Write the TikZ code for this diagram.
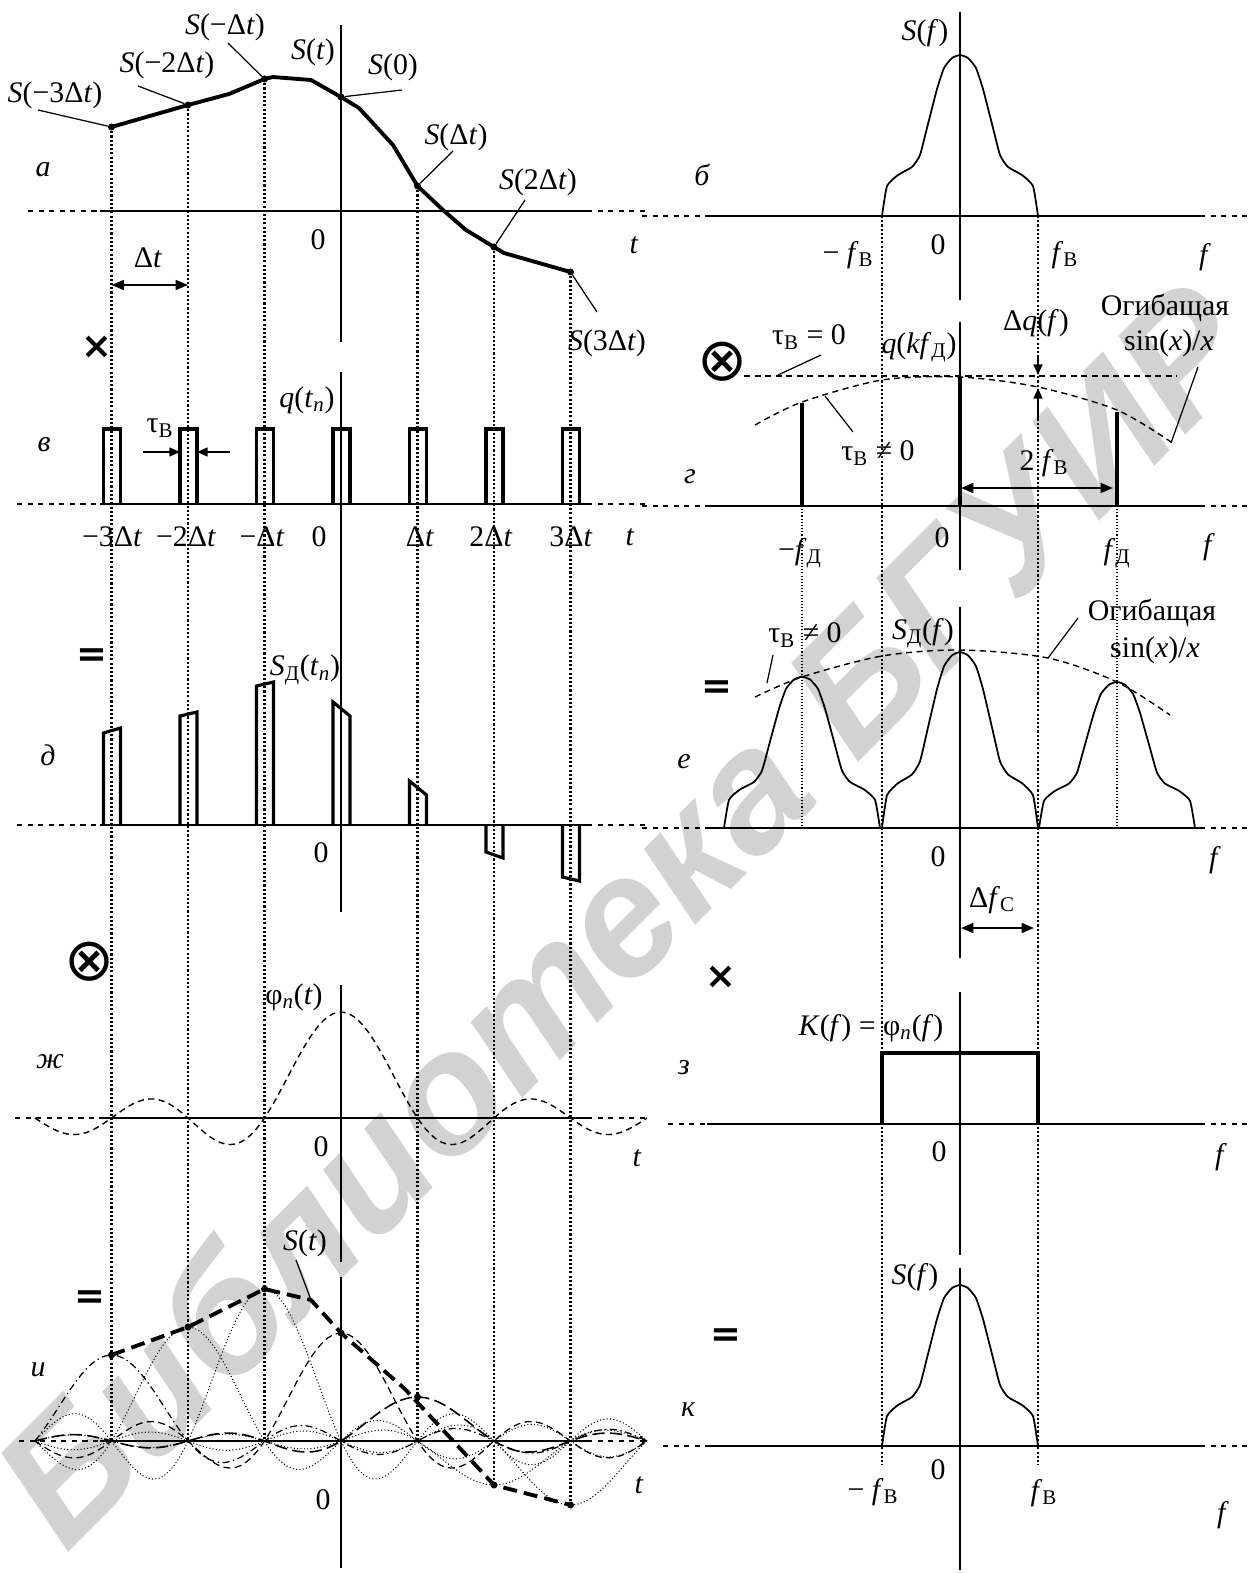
\documentclass[tikz,border=0pt]{standalone}
\usepackage{fontspec}
\setmainfont{Liberation Serif}
\newfontfamily\wmfont{Liberation Sans}
\newfontfamily\symfont{DejaVu Sans}
\usetikzlibrary{arrows.meta}

\newcommand{\fB}{\textit{f}\textsubscript{В}}
\newcommand{\fD}{\textit{f}\textsubscript{Д}}
\newcommand{\tauB}{τ\textsubscript{В}}
\newcommand{\Dt}{Δ\textit{t}}

% time axis: start of dashes, y
\newcommand{\taxis}[2]{%
\draw[extline] (#1,#2) -- (100,#2);
\draw[axline] (100,#2) -- (587,#2);
\draw[extline] (587,#2) -- (645,#2);}
% frequency axis: start of dashes, y
\newcommand{\faxis}[2]{%
\draw[extline] (#1,#2) -- (707,#2);
\draw[axline] (707,#2) -- (1200,#2);
\draw[extline] (1200,#2) -- (1248,#2);}
% spectrum: centre x, base y, height factor
\newcommand{\spect}[3]{%
\draw[spec] plot[smooth,tension=.3] coordinates {({#1-78},{#2}) ({#1-73},{#2-30*#3}) ({#1-62},{#2-41*#3}) ({#1-48},{#2-49*#3}) ({#1-40},{#2-61*#3}) ({#1-32},{#2-92*#3}) ({#1-23},{#2-127*#3}) ({#1-16},{#2-148*#3}) ({#1-8},{#2-158*#3}) ({#1},{#2-161*#3}) ({#1+8},{#2-158*#3}) ({#1+16},{#2-148*#3}) ({#1+23},{#2-127*#3}) ({#1+32},{#2-92*#3}) ({#1+40},{#2-61*#3}) ({#1+48},{#2-49*#3}) ({#1+62},{#2-41*#3}) ({#1+73},{#2-30*#3}) ({#1+78},{#2})};}

\begin{document}
\begin{tikzpicture}[x=0.02cm, y=-0.02cm,
 declare function={snc(\u)=sin(180*(\u+0.0001))/(pi*(\u+0.0001))*sqrt(1+0.16*\u*\u);},
 axline/.style={line width=1.1pt},
 extline/.style={line width=0.8pt, dash pattern=on 3pt off 3pt},
 vline/.style={line width=1.2pt, dash pattern=on 1.2pt off 1.2pt},
 fine/.style={line width=0.6pt, dash pattern=on 0.6pt off 1.2pt},
 sigline/.style={line width=2.2pt, line join=round},
 pulse/.style={line width=1.8pt},
 spec/.style={line width=1pt, line join=round},
 env/.style={line width=0.8pt, dash pattern=on 3.5pt off 2.5pt},
 rec/.style={line width=2.2pt, dash pattern=on 8pt off 4pt},
 sdot/.style={line width=0.6pt, dash pattern=on 0.6pt off 1.3pt},
 sdash/.style={line width=0.7pt, dash pattern=on 4pt off 2.5pt},
 sdashdot/.style={line width=0.7pt, dash pattern=on 4pt off 2pt on 0.8pt off 2pt},
 slong/.style={line width=0.9pt, dash pattern=on 7pt off 3pt},
 smp/.style={circle, fill, inner sep=0pt, minimum size=4pt},
 lbl/.style={font=\fontsize{17}{19}\selectfont, inner sep=0pt},
 panel/.style={font=\fontsize{17}{19}\selectfont\itshape, inner sep=0pt},
 op/.style={font=\symfont\bfseries\fontsize{21}{21}\selectfont, inner sep=0pt},
 otimes/.style={font=\symfont\fontsize{34}{34}\selectfont, inner sep=0pt},
 leader/.style={line width=0.7pt},
 dimarr/.style={line width=1.3pt, {Triangle[length=7pt,width=5.5pt]}-{Triangle[length=7pt,width=5.5pt]}},
 arr/.style={line width=1.1pt, -{Triangle[length=6pt,width=5pt]}},
 wm/.style={font=\wmfont\bfseries\itshape\fontsize{97}{97}\selectfont, text=gray!35, rotate=45, inner sep=0pt}]
\useasboundingbox (0,0) rectangle (1248,1573);
\node[wm] (wmark) at (622,912) {Библиотека БГУИР};

% ---------- left column: time ----------
\draw[axline] (341,25) -- (341,342);
\draw[axline] (341,372) -- (341,912);
\draw[axline] (341,985) -- (341,1262);
\draw[axline] (341,1277) -- (341,1568);
\foreach \k/\ya/\yb in {-3/127/1441, -2/105/1441, -1/79/1441, 1/186/1441, 2/247/1485, 3/272/1505}
  \draw[vline] ({341+76.5*\k},\ya) -- ({341+76.5*\k},\yb);

% a
\taxis{28}{211}
\node[smp] (am3) at (111.5,127) {};
\node[smp] (am2) at (188,105) {};
\node[smp] (am1) at (264.5,79) {};
\node[smp] (a0) at (341,97) {};
\node[smp] (ap1) at (417.5,186) {};
\node[smp] (ap2) at (494,247) {};
\node[smp] (ap3) at (570.5,272) {};
\draw[sigline] (am3.center) -- (am2.center) -- (229,94) -- (am1.center) -- (273,77) -- (311,80) -- (a0.center) -- (359,108) -- (393,145) -- (ap1.center) -- (443,210) -- (466,230) -- (ap2.center) -- (504,253) -- (ap3.center);
\node[lbl] (Sm3) at (55,95) {\textit{S}(−3\Dt)}; %label
\node[lbl] (Sm2) at (167,65) {\textit{S}(−2\Dt)}; %label
\node[lbl] (Sm1) at (225,27) {\textit{S}(−\Dt)}; %label
\node[lbl] (St) at (313,52) {\textit{S}(\textit{t})}; %label
\node[lbl] (S0) at (393,67) {\textit{S}(0)}; %label
\node[lbl] (Sp1) at (456,137) {\textit{S}(\Dt)}; %label
\node[lbl] (Sp2) at (538,182) {\textit{S}(2\Dt)}; %label
\node[lbl] (Sp3) at (607,343) {\textit{S}(3\Dt)}; %label
\coordinate (lm3) at (38,110);
\coordinate (lm2) at (138,86);
\coordinate (lm1) at (228,43);
\coordinate (l0) at (402,90);
\coordinate (lp1) at (453,151);
\coordinate (lp2) at (525,200);
\coordinate (lp3) at (597,312);
\draw[leader] (lm3) -- (am3);
\draw[leader] (lm2) -- (am2);
\draw[leader] (lm1) -- (am1);
\draw[leader] (l0) -- (a0);
\draw[leader] (lp1) -- (ap1);
\draw[leader] (lp2) -- (ap2);
\draw[leader] (lp3) -- (ap3);
\node[panel] (pa) at (43,170) {а};
\node[lbl] (za) at (318,240) {0};
\node[lbl] (ta) at (634,245) {\textit{t}};
\coordinate (dt1) at (111.5,285);
\coordinate (dt2) at (188,285);
\draw[dimarr] (dt1) -- (dt2);
\node[lbl] (dtl) at (148,258) {\Dt}; %label

% v
\node[op] (mul1) at (97,347) {×};
\taxis{17}{504}
\foreach \k in {-3,...,3}
  \draw[pulse] ({341+76.5*\k-8},504) -- ({341+76.5*\k-8},429) -- ({341+76.5*\k+9},429) -- ({341+76.5*\k+9},504);
\node[lbl] (qtn) at (307,400) {\textit{q}(\textit{t}\textsubscript{\textit{n}})}; %label
\node[lbl] (twl) at (160,428) {\tauB}; %label
\coordinate (tw1) at (143,452);
\coordinate (tw2) at (180,452);
\coordinate (tw3) at (230,452);
\coordinate (tw4) at (197,452);
\draw[arr] (tw1) -- (tw2);
\draw[arr] (tw3) -- (tw4);
\node[panel] (pv) at (44,445) {в};
\node[lbl] (tkm3) at (112,537) {−3\Dt};
\node[lbl] (tkm2) at (186,537) {−2\Dt};
\node[lbl] (tkm1) at (262,537) {−\Dt};
\node[lbl] (tk0) at (319,537) {0};
\node[lbl] (tkp1) at (420,537) {\Dt};
\node[lbl] (tkp2) at (491,537) {2\Dt};
\node[lbl] (tkp3) at (571,537) {3\Dt};
\node[lbl] (tv) at (630,537) {\textit{t}};

% d
\node[op] (eq1) at (92,658) {=};
\taxis{17}{825}
\foreach \k/\yl/\yr in {-3/733/728, -2/716/712, -1/686/682, 0/702/716, 1/781/795, 2/852/858, 3/877/881}
  \draw[pulse] ({341+76.5*\k-8},825) -- ({341+76.5*\k-8},\yl) -- ({341+76.5*\k+9},\yr) -- ({341+76.5*\k+9},825);
\node[lbl] (SDtn) at (305,670) {\textit{S}\textsubscript{Д}(\textit{t}\textsubscript{\textit{n}})}; %label
\node[panel] (pd) at (48,755) {д};
\node[lbl] (zd) at (321,853) {0};

% zh
\node[otimes] (conv1) at (90,962) {⊗};
\taxis{15}{1118}
\draw[env] plot[domain=-4:4,samples=120] ({341+76.5*\x},{1118-106*snc(\x)});
\node[lbl] (phin) at (294,997) {φ\textsubscript{\textit{n}}(\textit{t})}; %label
\node[panel] (pzh) at (50,1062) {ж};
\node[lbl] (zzh) at (321,1147) {0};
\node[lbl] (tzh) at (637,1158) {\textit{t}};

% i
\node[op] (eq2) at (90,1300) {=};
\draw[extline] (19,1441) -- (100,1441);
\draw[axline] (100,1441) -- (587,1441);
\draw[extline, -{To[length=4pt,width=6pt]}] (587,1441) -- (647,1441);
\foreach \k/\A/\s in {-3/86/sdashdot, -2/114/sdot, -1/152/sdot, 0/108/sdash, 1/44/slong, 2/-44/sdot, 3/-64/sdot}
  \draw[\s] plot[domain=-4:4,samples=120] ({341+76.5*\x},{1441-(\A)*snc(\x-(\k))});
\node[smp] (im3) at (111.5,1355) {};
\node[smp] (im2) at (188,1327) {};
\node[smp] (im1) at (264.5,1289) {};
\node[smp] (i0) at (341,1333) {};
\node[smp] (ip1) at (417.5,1397) {};
\node[smp] (ip2) at (494,1485) {};
\node[smp] (ip3) at (570.5,1505) {};
\coordinate (ikink) at (311,1300);
\draw[rec] (im3.center) -- (im2.center) -- (im1.center) -- (ikink) -- (i0.center) -- (405,1389) -- (ip2.center) -- (ip3.center);
\node[lbl] (Sti) at (305,1243) {\textit{S}(\textit{t})}; %label
\coordinate (lSti) at (296,1260);
\draw[leader] (lSti) -- (ikink);
\node[panel] (pi) at (38,1370) {и};
\node[lbl] (zi) at (323,1500) {0};
\node[lbl] (ti) at (639,1485) {\textit{t}};

% ---------- right column: frequency ----------
\draw[axline] (960,12) -- (960,300);
\draw[axline] (960,322) -- (960,570);
\draw[axline] (960,607) -- (960,958);
\draw[axline] (960,992) -- (960,1255);
\draw[axline] (960,1268) -- (960,1570);
\draw[vline] (882,216) -- (882,1465);
\draw[vline] (1038,216) -- (1038,1465);
\draw[fine] (802,506) -- (802,828);
\draw[fine] (1117,506) -- (1117,828);

% b
\faxis{642}{216}
\spect{960}{216}{1}
\node[lbl] (Sf1) at (925,33) {\textit{S}(\textit{f})}; %label
\node[panel] (pb) at (702,175) {б};
\node[lbl] (mfb1) at (848,255) {− \fB};
\node[lbl] (zb) at (938,245) {0};
\node[lbl] (fb1) at (1065,255) {\fB};
\node[lbl] (fb) at (1205,257) {\textit{f}};

% g
\node[otimes] (conv2) at (723,362) {⊗};
\faxis{642}{506}
\draw[line width=2.2pt] (802,506) -- (802,403);
\draw[line width=2.2pt] (960,506) -- (960,377);
\draw[line width=2.2pt] (1117,506) -- (1117,412);
\draw[env] (744,376) -- (1177,376);
\draw[env] plot[smooth] coordinates {(755,425) (802,402) (882,380) (960,377) (1038,387) (1117,410) (1171,442)};
\node[lbl] (tau0) at (809,337) {\tauB{} = 0}; %label
\coordinate (ltau0) at (821,355);
\coordinate (etau0) at (778,375);
\draw[leader] (ltau0) -- (etau0);
\node[lbl] (qkf) at (919,347) {\textit{q}(\textit{kf}\textsubscript{Д})}; %label
\node[lbl] (dq) at (1036,323) {Δ\textit{q}(\textit{f})}; %label
\coordinate (dq1) at (1038,356);
\coordinate (dq2) at (1038,375);
\coordinate (dq3) at (1038,420);
\coordinate (dq4) at (1038,388);
\draw[arr] (dq1) -- (dq2);
\draw[arr] (dq3) -- (dq4);
\node[lbl] (env1a) at (1165,308) {Огибащая}; %label
\node[lbl] (env1b) at (1169,343) {sin(\textit{x})/\textit{x}}; %label
\coordinate (lenv1) at (1198,367);
\coordinate (eenv1) at (1171,443);
\draw[leader] (lenv1) -- (eenv1);
\node[lbl] (taun1) at (878,453) {\tauB{} ≠ 0}; %label
\coordinate (ltaun1) at (853,432);
\coordinate (etaun1) at (825,396);
\draw[leader] (ltaun1) -- (etaun1);
\node[panel] (pg) at (690,477) {г};
\coordinate (fd1) at (961,488);
\coordinate (fd2) at (1113,488);
\draw[dimarr] (fd1) -- (fd2);
\node[lbl] (twofb) at (1044,463) {2 \fB}; %label
\node[lbl] (mfd) at (800,553) {−\fD};
\node[lbl] (zg) at (942,538) {0};
\node[lbl] (fd) at (1117,553) {\fD};
\node[lbl] (fg) at (1209,547) {\textit{f}};

% e
\node[op] (eq3) at (717,690) {=};
\faxis{642}{828}
\spect{802}{828}{0.94}
\spect{960}{828}{1.093}
\spect{1117}{828}{0.907}
\draw[env] plot[smooth] coordinates {(755,697) (802,677) (882,656) (960,650) (1048,658) (1117,682) (1170,715)};
\node[lbl] (taun2) at (805,635) {\tauB{} ≠ 0}; %label
\coordinate (ltaun2) at (773,655);
\coordinate (etaun2) at (767,683);
\draw[leader] (ltaun2) -- (etaun2);
\node[lbl] (SDf) at (923,633) {\textit{S}\textsubscript{Д}(\textit{f})}; %label
\node[lbl] (env2a) at (1152,613) {Огибащая}; %label
\node[lbl] (env2b) at (1155,650) {sin(\textit{x})/\textit{x}}; %label
\coordinate (lenv2) at (1078,618);
\coordinate (eenv2) at (1048,658);
\draw[leader] (lenv2) -- (eenv2);
\node[panel] (pe) at (684,762) {е};
\node[lbl] (ze) at (938,857) {0};
\node[lbl] (fe) at (1215,860) {\textit{f}};
\coordinate (fc1) at (961,928);
\coordinate (fc2) at (1034,928);
\draw[dimarr] (fc1) -- (fc2);
\node[lbl] (dfc) at (992,900) {Δ\textit{f}\textsubscript{С}}; %label

% z
\node[op] (mul2) at (721,977) {×};
\faxis{668}{1124}
\draw[line width=2pt] (882,1124) -- (882,1053) -- (1038,1053) -- (1038,1124);
\node[lbl] (Kf) at (871,1028) {\textit{K}(\textit{f}) = φ\textsubscript{\textit{n}}(\textit{f})}; %label
\node[panel] (pz) at (684,1068) {з};
\node[lbl] (zz) at (939,1152) {0};
\node[lbl] (fz) at (1221,1157) {\textit{f}};

% k
\node[op] (eq4) at (726,1338) {=};
\faxis{663}{1446}
\spect{960}{1446}{1}
\node[lbl] (Sf2) at (915,1277) {\textit{S}(\textit{f})}; %label
\node[panel] (pk) at (688,1410) {к};
\node[lbl] (mfb2) at (873,1492) {− \fB};
\node[lbl] (zk) at (938,1470) {0};
\node[lbl] (fb2) at (1044,1493) {\fB};
\node[lbl] (fk) at (1223,1515) {\textit{f}};
\end{tikzpicture}
\end{document}
